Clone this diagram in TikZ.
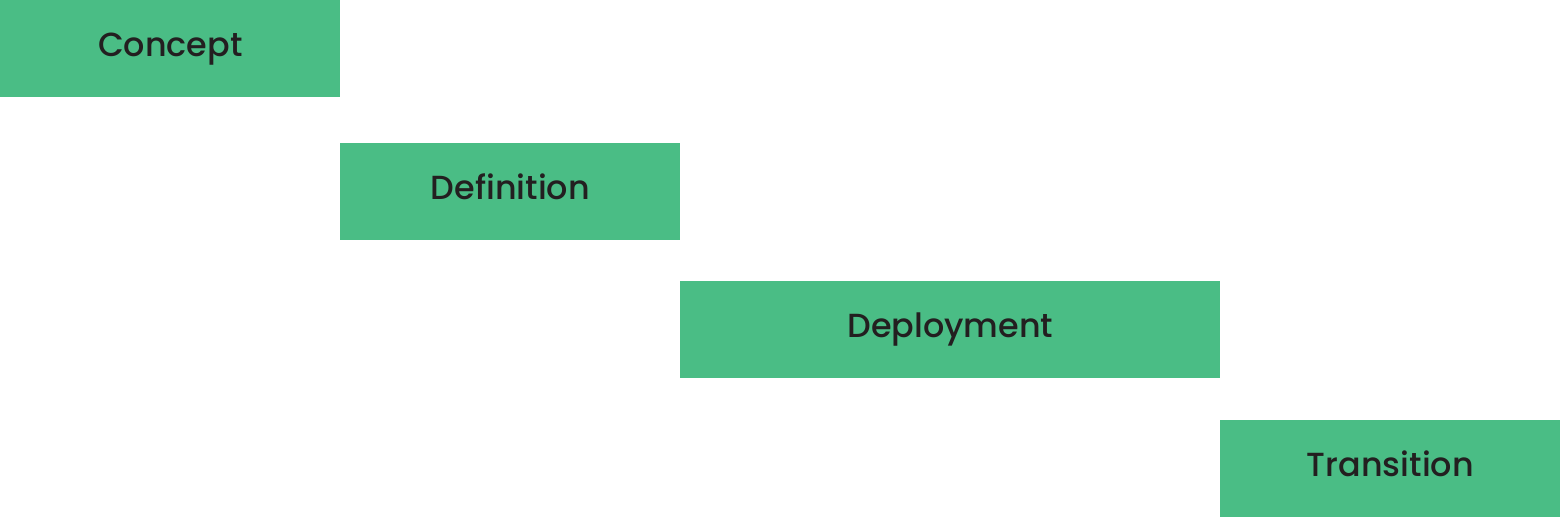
\documentclass[tikz,border=0pt]{standalone}
\usepackage{fontspec}
\newfontfamily\pmed{Poppins Medium}
\definecolor{boxgreen}{HTML}{4ABD85}
\definecolor{txt}{HTML}{231F20}
\begin{document}
\begin{tikzpicture}[x=0.5pt,y=-0.5pt,
  phase/.style={fill=boxgreen,draw=none,inner sep=0pt,text=txt,
    text height=28pt,text depth=20.5pt,anchor=north west,
    font=\pmed\fontsize{16.7}{20}\selectfont}]
\useasboundingbox (0,0) rectangle (1560,517);
\fill[white] (0,0) rectangle (1560,517);
\node[phase,minimum width=170pt] (concept) at (0,0) {Concept};
\node[phase,minimum width=170pt] (definition) at (340,143) {Definition};
\node[phase,minimum width=270pt] (deployment) at (680,281) {Deployment};
\node[phase,minimum width=170pt] (transition) at (1220,420) {Transition};
\end{tikzpicture}
\end{document}
